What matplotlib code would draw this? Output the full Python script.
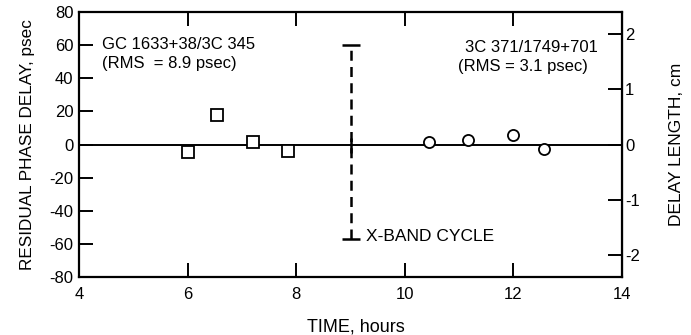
import matplotlib.pyplot as plt
import numpy as np

plt.rcParams['font.family'] = ['Liberation Sans', 'DejaVu Sans']

# GC 1633+38 / 3C 345 (squares)
t_sq = [6.0, 6.54, 7.2, 7.85]
d_sq = [-4.2, 18.0, 1.8, -3.6]
# 3C 371 / 1749+701 (circles)
t_ci = [10.44, 11.16, 11.99, 12.56]
d_ci = [1.5, 2.7, 5.8, -2.7]
# X-band cycle bar
t_bar = 9.0
bar_lo, bar_hi = -57.0, 60.0

PS_PER_CM = 33.356
FS = 12

fig = plt.figure(figsize=(6.91, 3.35), dpi=100)
ax = fig.add_axes([0.1143, 0.173, 0.786, 0.791])

ax.axhline(0, color='black', lw=1.4, zorder=1)
ax.plot(t_sq, d_sq, 's', ms=8, mfc='white', mec='black', mew=1.3, zorder=3)
ax.plot(t_ci, d_ci, 'o', ms=8, mfc='white', mec='black', mew=1.3, zorder=3)

# x-band cycle bar
ax.vlines(t_bar, bar_lo, bar_hi, colors='black', lw=1.8, linestyles=(0, (4, 2.5)))
ax.vlines(t_bar, -5, 4, colors='black', lw=1.8)
ax.plot([t_bar, t_bar], [bar_lo, bar_hi], ls='none', marker='_', ms=13, mew=1.8, color='black')
ax.text(t_bar + 0.28, -55.5, 'X-BAND CYCLE', fontsize=12.5, va='center', ha='left')

ax.text(4.42, 60.3, 'GC 1633+38/3C 345', fontsize=FS, va='center')
ax.text(4.42, 48.8, '(RMS  = 8.9 psec)', fontsize=FS, va='center')
ax.text(13.56, 58.5, '3C 371/1749+701', fontsize=FS, va='center', ha='right')
ax.text(10.97, 47.0, '(RMS = 3.1 psec)', fontsize=FS, va='center', ha='left')

ax.set_xlim(4, 14)
ax.set_ylim(-80, 80)
ax.set_xticks([4, 6, 8, 10, 12, 14])
ax.set_yticks(np.arange(-80, 81, 20))
ax.set_yticklabels(['-80', '-60', '-40', '-20', '0', '20', '40', '60', '80'])
ax.tick_params(axis='both', direction='in', length=10, width=1.4, labelsize=FS,
               top=True, right=False)
ax.tick_params(axis='x', pad=7)
ax.tick_params(axis='y', pad=4)
for s in ax.spines.values():
    s.set_linewidth(1.6)

sec = ax.secondary_yaxis('right', functions=(lambda p: p / PS_PER_CM, lambda c: c * PS_PER_CM))
sec.set_yticks([-2, -1, 0, 1, 2])
sec.set_yticklabels(['-2', '-1', '0', '1', '2'])
sec.tick_params(direction='in', length=10, width=1.4, labelsize=FS, pad=2)
sec.set_ylabel('DELAY LENGTH, cm', fontsize=12.5, labelpad=21)

ax.set_ylabel('RESIDUAL PHASE DELAY, psec', fontsize=12.3, labelpad=10)
ax.set_xlabel('TIME, hours', fontsize=13, labelpad=12)
ax.xaxis.label.set_x(0.51)

fig.savefig('out.png', dpi=100)
